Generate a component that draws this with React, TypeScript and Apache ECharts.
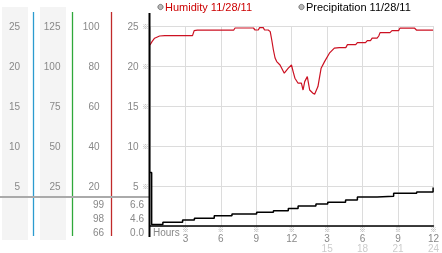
import React, { useEffect, useRef } from 'react';
import * as echarts from 'echarts';

// [hour, humidity %]
const humidityPoints: [number, number][] = [
  [0, 90.5], [0.17, 92.2], [0.39, 93.9], [0.81, 95], [1.25, 95.2], [3.6, 95.2], [3.74, 97.7],
  [4.01, 97.9], [7.08, 97.9], [7.2, 99], [8.76, 99], [8.9, 98], [9.17, 98], [9.28, 99.2],
  [9.59, 99.2], [9.7, 98], [10.01, 98], [10.18, 97.2], [10.31, 93], [10.45, 88], [10.59, 84],
  [10.73, 82.2], [11.01, 80.5], [11.37, 76.4], [11.71, 78.9], [11.98, 80.5], [12.12, 77.2],
  [12.27, 73.9], [12.54, 71.4], [12.82, 71.4], [12.96, 68], [13.1, 72.2], [13.32, 74.7],
  [13.52, 68], [13.8, 66.4], [13.94, 65.9], [14.22, 69.7], [14.49, 78.9], [14.78, 82.2],
  [15.19, 86.4], [15.61, 88.9], [16.03, 89.2], [16.58, 89.2], [16.72, 90.7], [17.42, 90.7],
  [17.56, 91.7], [18.25, 91.7], [18.4, 92.7], [18.67, 92.7], [18.81, 93.9], [19.23, 93.9],
  [19.37, 95], [19.48, 96.7], [20.32, 96.7], [20.49, 97.7], [21.05, 97.7], [21.16, 98.9],
  [22.41, 98.9], [22.58, 97.9], [23.97, 97.9],
];

// [hour, precipitation mm] (value holds until next point)
const precipPoints: [number, number][] = [
  [0, 6.5], [0.14, 0], [1.09, 0.26], [2.76, 0.55], [3.76, 0.76], [5.44, 1.09], [6.94, 1.3],
  [9.03, 1.51], [10.45, 1.71], [11.71, 2.0], [12.54, 2.3], [14.05, 2.55], [15.05, 2.76],
  [16.56, 3.05], [17.56, 3.43], [19.23, 3.51], [20.63, 3.89], [22.58, 4.05], [23.83, 4.05],
  [23.97, 4.6],
];

const xTickHours = [3, 6, 9, 12, 15, 18, 21, 24];
const xLabels12 = ['3', '6', '9', '12', '3', '6', '9', '12'];
const xLabels24 = ['', '', '', '', '15', '18', '21', '24'];
const humidityStats = ['99', '98', '66'];
const precipStats = ['6.6', '4.6', '0.0'];
const legendNames = ['Humidity 11/28/11', 'Precipitation 11/28/11'];

export default function App() {
  const ref = useRef<HTMLDivElement>(null);
  useEffect(() => {
    const chart = echarts.init(ref.current!, null, { renderer: 'svg' });
    const font = '"Liberation Sans", Arial, sans-serif';
    const labelColor = '#888';

    const sideAxis = (max: number, interval: number, offset: number, margin: number) => ({
      type: 'value',
      position: 'left',
      min: 0,
      max,
      interval,
      offset,
      axisLine: { show: false },
      axisTick: { show: false },
      splitLine: { show: false },
      axisLabel: {
        margin,
        color: labelColor,
        fontSize: 10,
        fontFamily: font,
        formatter: (v: number) => (v > 0 ? String(v) : ''),
      },
    });

    const statTexts: any[] = [];
    const statY = [204, 218, 232];
    humidityStats.forEach((s, i) =>
      statTexts.push({
        type: 'text', x: 104, y: statY[i],
        style: { text: s, fill: labelColor, font: `10px ${font}`, align: 'right', verticalAlign: 'middle' },
      })
    );
    precipStats.forEach((s, i) =>
      statTexts.push({
        type: 'text', x: 144, y: statY[i],
        style: { text: s, fill: labelColor, font: `10px ${font}`, align: 'right', verticalAlign: 'middle' },
      })
    );

    chart.setOption({
      animation: false,
      grid: { left: 150, top: 26, width: 287, height: 200, containLabel: false },
      xAxis: {
        type: 'value',
        min: 0,
        max: 24,
        interval: 3,
        axisLine: { show: true, lineStyle: { color: '#000', width: 1.5 } },
        axisTick: { show: false },
        splitLine: { show: true, lineStyle: { color: '#dcdcdc', width: 1 } },
        axisLabel: {
          margin: 0,
          showMinLabel: false,
          formatter: (v: number) => {
            const i = xTickHours.indexOf(v);
            if (i < 0) return '';
            return `{m|※}\n{a|${xLabels12[i]}}` + (xLabels24[i] ? `\n{b|${xLabels24[i]}}` : '');
          },
          rich: {
            m: { fontSize: 6, lineHeight: 7, color: '#999', fontFamily: 'Noto Sans CJK JP' },
            a: { fontSize: 10, lineHeight: 10, color: labelColor, fontFamily: font },
            b: { fontSize: 10, lineHeight: 10, color: '#ccc', fontFamily: font },
          },
        },
      },
      yAxis: [
        {
          type: 'value',
          position: 'left',
          min: 0,
          max: 25,
          interval: 5,
          axisLine: { show: false },
          axisTick: { show: false },
          splitLine: { show: true, lineStyle: { color: '#dcdcdc', width: 1 } },
          axisLabel: {
            margin: 1.5,
            formatter: (v: number) => (v > 0 ? `{v|${v}}{m|※}` : ''),
            rich: {
              v: { fontSize: 10, color: labelColor, fontFamily: font, verticalAlign: 'middle', lineHeight: 12 },
              m: { fontSize: 6, color: '#999', fontFamily: 'Noto Sans CJK JP', padding: [0, 0, 0, 4], verticalAlign: 'middle', lineHeight: 12 },
            },
          },
        },
        sideAxis(100, 20, 38.5, 12),
        sideAxis(125, 25, 77.5, 12),
        sideAxis(25, 5, 116.5, 13.5),
        { type: 'value', min: -0.2, max: 24.8, show: false },
      ],
      series: [
        {
          name: legendNames[0],
          type: 'line',
          yAxisIndex: 1,
          data: humidityPoints,
          showSymbol: false,
          lineStyle: { color: '#cc1122', width: 1.2 },
          z: 3,
        },
        {
          name: legendNames[1],
          type: 'line',
          yAxisIndex: 4,
          step: 'end',
          data: precipPoints,
          showSymbol: false,
          lineStyle: { color: '#000', width: 1.5 },
          z: 4,
        },
      ],
      graphic: [
        { type: 'rect', z: -10, shape: { x: 2, y: 7, width: 26, height: 233 }, style: { fill: '#f4f4f4' } },
        { type: 'rect', z: -10, shape: { x: 40, y: 7, width: 26, height: 233 }, style: { fill: '#f4f4f4' } },
        { type: 'line', z: 5, shape: { x1: 33.5, y1: 12, x2: 33.5, y2: 236 }, style: { stroke: '#2b9bcf', lineWidth: 1.3 } },
        { type: 'line', z: 5, shape: { x1: 72.5, y1: 12, x2: 72.5, y2: 236 }, style: { stroke: '#2fa83a', lineWidth: 1.3 } },
        { type: 'line', z: 5, shape: { x1: 111.5, y1: 12, x2: 111.5, y2: 236 }, style: { stroke: '#c02a2a', lineWidth: 1.3 } },
        { type: 'line', z: 6, shape: { x1: 0, y1: 197, x2: 150, y2: 197 }, style: { stroke: '#aaa', lineWidth: 2 } },
        { type: 'line', z: 7, shape: { x1: 149.5, y1: 13, x2: 149.5, y2: 237 }, style: { stroke: '#000', lineWidth: 2 } },
        {
          type: 'text', x: 153, y: 232,
          style: { text: 'Hours', fill: labelColor, font: `10px ${font}`, verticalAlign: 'middle' },
        },
        { type: 'circle', shape: { cx: 160.5, cy: 7, r: 2.6 }, style: { fill: '#bbb', stroke: '#777', lineWidth: 1 } },
        {
          type: 'text', x: 165, y: 7,
          style: { text: legendNames[0], fill: '#cc0000', font: `11px ${font}`, verticalAlign: 'middle' },
        },
        { type: 'circle', shape: { cx: 301.5, cy: 7, r: 2.6 }, style: { fill: '#bbb', stroke: '#777', lineWidth: 1 } },
        {
          type: 'text', x: 306, y: 7,
          style: { text: legendNames[1], fill: '#000', font: `11px ${font}`, verticalAlign: 'middle' },
        },
        ...statTexts,
      ],
    });
    return () => chart.dispose();
  }, []);
  return <div ref={ref} style={{ position: 'fixed', left: 0, top: 0, width: 442, height: 253 }} />;
}
